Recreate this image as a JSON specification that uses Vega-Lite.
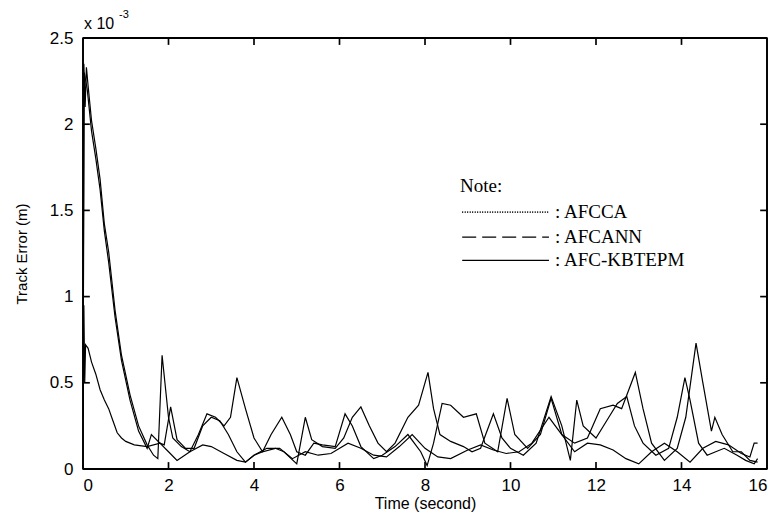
{
  "$schema": "https://vega.github.io/schema/vega-lite/v6.json",
  "width": 684,
  "height": 431,
  "autosize": "none",
  "padding": {"left": 83, "top": 38, "right": 10, "bottom": 49},
  "background": "white",
  "config": {
    "view": {"stroke": "black", "strokeWidth": 1.5},
    "axis": {"grid": false, "domain": false, "ticks": false, "labelColor": "black", "labelFont": "Liberation Sans", "titleFont": "Liberation Sans", "titleColor": "black", "titleFontWeight": "normal"}
  },
  "datasets": {
    "curves": [
      {"s": "L", "t": 0.0, "v": 0.3}, {"s": "L", "t": 0.02, "v": 0.95}, {"s": "L", "t": 0.04, "v": 0.5}, {"s": "L", "t": 0.06, "v": 0.72}, {"s": "L", "t": 0.12, "v": 0.7},
      {"s": "L", "t": 0.2, "v": 0.62}, {"s": "L", "t": 0.3, "v": 0.55}, {"s": "L", "t": 0.4, "v": 0.46}, {"s": "L", "t": 0.5, "v": 0.4}, {"s": "L", "t": 0.6, "v": 0.35},
      {"s": "L", "t": 0.7, "v": 0.28}, {"s": "L", "t": 0.8, "v": 0.21}, {"s": "L", "t": 0.9, "v": 0.18}, {"s": "L", "t": 1.0, "v": 0.16}, {"s": "L", "t": 1.2, "v": 0.14},
      {"s": "L", "t": 1.5, "v": 0.13}, {"s": "L", "t": 1.8, "v": 0.15}, {"s": "L", "t": 2.0, "v": 0.1}, {"s": "L", "t": 2.2, "v": 0.05}, {"s": "L", "t": 2.5, "v": 0.1},
      {"s": "L", "t": 2.8, "v": 0.14}, {"s": "L", "t": 3.0, "v": 0.13}, {"s": "L", "t": 3.3, "v": 0.09}, {"s": "L", "t": 3.6, "v": 0.05}, {"s": "L", "t": 3.8, "v": 0.04},
      {"s": "L", "t": 4.0, "v": 0.08}, {"s": "L", "t": 4.3, "v": 0.12}, {"s": "L", "t": 4.6, "v": 0.12}, {"s": "L", "t": 4.9, "v": 0.06}, {"s": "L", "t": 5.2, "v": 0.1},
      {"s": "L", "t": 5.5, "v": 0.08}, {"s": "L", "t": 5.8, "v": 0.09}, {"s": "L", "t": 6.2, "v": 0.15}, {"s": "L", "t": 6.5, "v": 0.12}, {"s": "L", "t": 6.8, "v": 0.08},
      {"s": "L", "t": 7.1, "v": 0.07}, {"s": "L", "t": 7.4, "v": 0.13}, {"s": "L", "t": 7.7, "v": 0.2}, {"s": "L", "t": 8.0, "v": 0.12}, {"s": "L", "t": 8.3, "v": 0.07},
      {"s": "L", "t": 8.6, "v": 0.06}, {"s": "L", "t": 9.0, "v": 0.11}, {"s": "L", "t": 9.3, "v": 0.14}, {"s": "L", "t": 9.6, "v": 0.11}, {"s": "L", "t": 9.9, "v": 0.09},
      {"s": "L", "t": 10.2, "v": 0.1}, {"s": "L", "t": 10.5, "v": 0.15}, {"s": "L", "t": 10.9, "v": 0.3}, {"s": "L", "t": 11.2, "v": 0.2}, {"s": "L", "t": 11.5, "v": 0.1},
      {"s": "L", "t": 11.8, "v": 0.15}, {"s": "L", "t": 12.1, "v": 0.14}, {"s": "L", "t": 12.4, "v": 0.11}, {"s": "L", "t": 12.7, "v": 0.06}, {"s": "L", "t": 13.0, "v": 0.03},
      {"s": "L", "t": 13.3, "v": 0.1}, {"s": "L", "t": 13.6, "v": 0.15}, {"s": "L", "t": 13.9, "v": 0.1}, {"s": "L", "t": 14.2, "v": 0.04}, {"s": "L", "t": 14.5, "v": 0.12},
      {"s": "L", "t": 14.8, "v": 0.16}, {"s": "L", "t": 15.1, "v": 0.14}, {"s": "L", "t": 15.4, "v": 0.09}, {"s": "L", "t": 15.6, "v": 0.07}, {"s": "L", "t": 15.7, "v": 0.15}, {"s": "L", "t": 15.78, "v": 0.15},

      {"s": "A", "t": 0.0, "v": 0.3}, {"s": "A", "t": 0.02, "v": 2.35}, {"s": "A", "t": 0.05, "v": 2.1}, {"s": "A", "t": 0.08, "v": 2.33}, {"s": "A", "t": 0.12, "v": 2.22},
      {"s": "A", "t": 0.2, "v": 2.02}, {"s": "A", "t": 0.3, "v": 1.86}, {"s": "A", "t": 0.4, "v": 1.68}, {"s": "A", "t": 0.5, "v": 1.42}, {"s": "A", "t": 0.6, "v": 1.26},
      {"s": "A", "t": 0.75, "v": 0.92}, {"s": "A", "t": 0.9, "v": 0.66}, {"s": "A", "t": 1.1, "v": 0.43}, {"s": "A", "t": 1.3, "v": 0.25}, {"s": "A", "t": 1.5, "v": 0.14},
      {"s": "A", "t": 1.65, "v": 0.08}, {"s": "A", "t": 1.75, "v": 0.06}, {"s": "A", "t": 1.85, "v": 0.66}, {"s": "A", "t": 2.0, "v": 0.3}, {"s": "A", "t": 2.1, "v": 0.18},
      {"s": "A", "t": 2.3, "v": 0.13}, {"s": "A", "t": 2.5, "v": 0.1}, {"s": "A", "t": 2.7, "v": 0.2}, {"s": "A", "t": 2.9, "v": 0.32}, {"s": "A", "t": 3.1, "v": 0.3},
      {"s": "A", "t": 3.3, "v": 0.25}, {"s": "A", "t": 3.45, "v": 0.3}, {"s": "A", "t": 3.6, "v": 0.53}, {"s": "A", "t": 3.8, "v": 0.35}, {"s": "A", "t": 4.0, "v": 0.18},
      {"s": "A", "t": 4.2, "v": 0.1}, {"s": "A", "t": 4.5, "v": 0.12}, {"s": "A", "t": 4.7, "v": 0.1}, {"s": "A", "t": 5.0, "v": 0.03}, {"s": "A", "t": 5.2, "v": 0.3},
      {"s": "A", "t": 5.35, "v": 0.17}, {"s": "A", "t": 5.6, "v": 0.13}, {"s": "A", "t": 5.9, "v": 0.12}, {"s": "A", "t": 6.1, "v": 0.18}, {"s": "A", "t": 6.3, "v": 0.3},
      {"s": "A", "t": 6.5, "v": 0.36}, {"s": "A", "t": 6.7, "v": 0.25}, {"s": "A", "t": 6.9, "v": 0.15}, {"s": "A", "t": 7.1, "v": 0.1}, {"s": "A", "t": 7.3, "v": 0.15},
      {"s": "A", "t": 7.6, "v": 0.3}, {"s": "A", "t": 7.85, "v": 0.37}, {"s": "A", "t": 8.07, "v": 0.56}, {"s": "A", "t": 8.2, "v": 0.35}, {"s": "A", "t": 8.35, "v": 0.2},
      {"s": "A", "t": 8.6, "v": 0.16}, {"s": "A", "t": 8.9, "v": 0.13}, {"s": "A", "t": 9.1, "v": 0.1}, {"s": "A", "t": 9.3, "v": 0.12}, {"s": "A", "t": 9.6, "v": 0.32},
      {"s": "A", "t": 9.8, "v": 0.18}, {"s": "A", "t": 10.0, "v": 0.12}, {"s": "A", "t": 10.3, "v": 0.08}, {"s": "A", "t": 10.6, "v": 0.15}, {"s": "A", "t": 10.95, "v": 0.42},
      {"s": "A", "t": 11.2, "v": 0.25}, {"s": "A", "t": 11.4, "v": 0.05}, {"s": "A", "t": 11.55, "v": 0.4}, {"s": "A", "t": 11.7, "v": 0.25}, {"s": "A", "t": 12.0, "v": 0.18},
      {"s": "A", "t": 12.3, "v": 0.3}, {"s": "A", "t": 12.5, "v": 0.38}, {"s": "A", "t": 12.72, "v": 0.42}, {"s": "A", "t": 12.9, "v": 0.25}, {"s": "A", "t": 13.1, "v": 0.15},
      {"s": "A", "t": 13.4, "v": 0.08}, {"s": "A", "t": 13.7, "v": 0.12}, {"s": "A", "t": 13.9, "v": 0.3}, {"s": "A", "t": 14.08, "v": 0.53}, {"s": "A", "t": 14.2, "v": 0.4},
      {"s": "A", "t": 14.4, "v": 0.15}, {"s": "A", "t": 14.6, "v": 0.08}, {"s": "A", "t": 14.8, "v": 0.1}, {"s": "A", "t": 15.0, "v": 0.12}, {"s": "A", "t": 15.3, "v": 0.08},
      {"s": "A", "t": 15.5, "v": 0.05}, {"s": "A", "t": 15.7, "v": 0.03}, {"s": "A", "t": 15.78, "v": 0.06},

      {"s": "B", "t": 0.0, "v": 0.4}, {"s": "B", "t": 0.03, "v": 2.3}, {"s": "B", "t": 0.1, "v": 2.2}, {"s": "B", "t": 0.2, "v": 1.96}, {"s": "B", "t": 0.3, "v": 1.8},
      {"s": "B", "t": 0.4, "v": 1.62}, {"s": "B", "t": 0.5, "v": 1.38}, {"s": "B", "t": 0.6, "v": 1.2}, {"s": "B", "t": 0.75, "v": 0.88}, {"s": "B", "t": 0.9, "v": 0.63},
      {"s": "B", "t": 1.1, "v": 0.4}, {"s": "B", "t": 1.3, "v": 0.22}, {"s": "B", "t": 1.5, "v": 0.12}, {"s": "B", "t": 1.6, "v": 0.2}, {"s": "B", "t": 1.8, "v": 0.15},
      {"s": "B", "t": 1.9, "v": 0.14}, {"s": "B", "t": 2.05, "v": 0.36}, {"s": "B", "t": 2.2, "v": 0.17}, {"s": "B", "t": 2.4, "v": 0.12}, {"s": "B", "t": 2.6, "v": 0.12},
      {"s": "B", "t": 2.8, "v": 0.25}, {"s": "B", "t": 3.0, "v": 0.3}, {"s": "B", "t": 3.2, "v": 0.28}, {"s": "B", "t": 3.4, "v": 0.2}, {"s": "B", "t": 3.6, "v": 0.1},
      {"s": "B", "t": 3.8, "v": 0.04}, {"s": "B", "t": 4.0, "v": 0.08}, {"s": "B", "t": 4.2, "v": 0.1}, {"s": "B", "t": 4.4, "v": 0.2}, {"s": "B", "t": 4.65, "v": 0.3},
      {"s": "B", "t": 4.85, "v": 0.2}, {"s": "B", "t": 5.0, "v": 0.1}, {"s": "B", "t": 5.2, "v": 0.08}, {"s": "B", "t": 5.4, "v": 0.15}, {"s": "B", "t": 5.6, "v": 0.14},
      {"s": "B", "t": 5.9, "v": 0.13}, {"s": "B", "t": 6.13, "v": 0.32}, {"s": "B", "t": 6.3, "v": 0.25}, {"s": "B", "t": 6.5, "v": 0.13}, {"s": "B", "t": 6.8, "v": 0.06},
      {"s": "B", "t": 7.0, "v": 0.08}, {"s": "B", "t": 7.3, "v": 0.13}, {"s": "B", "t": 7.6, "v": 0.2}, {"s": "B", "t": 7.9, "v": 0.1}, {"s": "B", "t": 8.05, "v": 0.02},
      {"s": "B", "t": 8.2, "v": 0.15}, {"s": "B", "t": 8.4, "v": 0.38}, {"s": "B", "t": 8.6, "v": 0.37}, {"s": "B", "t": 8.9, "v": 0.3}, {"s": "B", "t": 9.2, "v": 0.32},
      {"s": "B", "t": 9.4, "v": 0.15}, {"s": "B", "t": 9.7, "v": 0.1}, {"s": "B", "t": 9.92, "v": 0.41}, {"s": "B", "t": 10.1, "v": 0.2}, {"s": "B", "t": 10.4, "v": 0.12},
      {"s": "B", "t": 10.7, "v": 0.2}, {"s": "B", "t": 10.95, "v": 0.41}, {"s": "B", "t": 11.2, "v": 0.2}, {"s": "B", "t": 11.5, "v": 0.15}, {"s": "B", "t": 11.8, "v": 0.18},
      {"s": "B", "t": 12.1, "v": 0.35}, {"s": "B", "t": 12.4, "v": 0.37}, {"s": "B", "t": 12.6, "v": 0.35}, {"s": "B", "t": 12.92, "v": 0.56}, {"s": "B", "t": 13.1, "v": 0.35},
      {"s": "B", "t": 13.3, "v": 0.15}, {"s": "B", "t": 13.6, "v": 0.05}, {"s": "B", "t": 13.9, "v": 0.12}, {"s": "B", "t": 14.1, "v": 0.3}, {"s": "B", "t": 14.34, "v": 0.73},
      {"s": "B", "t": 14.5, "v": 0.5}, {"s": "B", "t": 14.7, "v": 0.22}, {"s": "B", "t": 14.78, "v": 0.3}, {"s": "B", "t": 14.95, "v": 0.2}, {"s": "B", "t": 15.2, "v": 0.1},
      {"s": "B", "t": 15.4, "v": 0.1}, {"s": "B", "t": 15.6, "v": 0.05}, {"s": "B", "t": 15.78, "v": 0.04}
    ],
    "legend": [
      {"series": "AFCCA", "x0": 8.87, "x1": 10.9, "y": 1.49, "label": ": AFCCA"},
      {"series": "AFCANN", "x0": 8.87, "x1": 10.9, "y": 1.345, "label": ": AFCANN"},
      {"series": "AFC-KBTEPM", "x0": 8.87, "x1": 10.9, "y": 1.21, "label": ": AFC-KBTEPM"}
    ],
    "notes": [
      {"x": 8.82, "y": 1.64, "txt": "Note:"}
    ],
    "expo": [
      {"x": 0, "y": 2.5, "base": "x 10", "pow": "-3"}
    ],
    "hlines": [
      {"kind": "frame", "xa": 0, "xb": 16, "ya": 0},
      {"kind": "frame", "xa": 0, "xb": 16, "ya": 2.5},
      {"kind": "tick", "xa": 0, "xb": 0.16, "ya": 0.5}, {"kind": "tick", "xa": 0, "xb": 0.16, "ya": 1}, {"kind": "tick", "xa": 0, "xb": 0.16, "ya": 1.5}, {"kind": "tick", "xa": 0, "xb": 0.16, "ya": 2},
      {"kind": "tick", "xa": 15.84, "xb": 16, "ya": 0.5}, {"kind": "tick", "xa": 15.84, "xb": 16, "ya": 1}, {"kind": "tick", "xa": 15.84, "xb": 16, "ya": 1.5}, {"kind": "tick", "xa": 15.84, "xb": 16, "ya": 2}
    ],
    "vlines": [
      {"kind": "frame", "xa": 0, "ya": 0, "yb": 2.5},
      {"kind": "frame", "xa": 16, "ya": 0, "yb": 2.5},
      {"kind": "tick", "xa": 2, "ya": 0, "yb": 0.04}, {"kind": "tick", "xa": 4, "ya": 0, "yb": 0.04}, {"kind": "tick", "xa": 6, "ya": 0, "yb": 0.04}, {"kind": "tick", "xa": 8, "ya": 0, "yb": 0.04},
      {"kind": "tick", "xa": 10, "ya": 0, "yb": 0.04}, {"kind": "tick", "xa": 12, "ya": 0, "yb": 0.04}, {"kind": "tick", "xa": 14, "ya": 0, "yb": 0.04},
      {"kind": "tick", "xa": 2, "ya": 2.46, "yb": 2.5}, {"kind": "tick", "xa": 4, "ya": 2.46, "yb": 2.5}, {"kind": "tick", "xa": 6, "ya": 2.46, "yb": 2.5}, {"kind": "tick", "xa": 8, "ya": 2.46, "yb": 2.5},
      {"kind": "tick", "xa": 10, "ya": 2.46, "yb": 2.5}, {"kind": "tick", "xa": 12, "ya": 2.46, "yb": 2.5}, {"kind": "tick", "xa": 14, "ya": 2.46, "yb": 2.5}
    ]
  },
  "layer": [
    {
      "data": {"name": "curves"},
      "mark": {"type": "line", "color": "black", "strokeWidth": 1.2, "clip": true},
      "encoding": {
        "x": {"field": "t", "type": "quantitative", "scale": {"domain": [0, 16], "nice": false},
              "axis": {"orient": "bottom", "values": [0, 2, 4, 6, 8, 10, 12, 14, 16], "labelPadding": 8, "labelFontSize": 17, "title": "Time (second)", "titleFontSize": 16, "titlePadding": 2}},
        "y": {"field": "v", "type": "quantitative", "scale": {"domain": [0, 2.5], "nice": false},
              "axis": {"orient": "left", "values": [0, 0.5, 1, 1.5, 2, 2.5], "format": "~g", "labelPadding": 10, "labelFontSize": 17, "title": "Track Error (m)", "titleFontSize": 15, "titlePadding": 20}},
        "detail": {"field": "s", "type": "nominal"},
        "order": {"field": "t", "type": "quantitative"}
      }
    },
    {
      "data": {"name": "hlines"},
      "mark": {"type": "rule", "color": "black"},
      "encoding": {
        "x": {"field": "xa", "type": "quantitative"},
        "x2": {"field": "xb"},
        "y": {"field": "ya", "type": "quantitative"},
        "strokeWidth": {"field": "kind", "type": "nominal", "scale": {"domain": ["frame", "tick"], "range": [1.8, 1.3]}, "legend": null}
      }
    },
    {
      "data": {"name": "vlines"},
      "mark": {"type": "rule", "color": "black"},
      "encoding": {
        "x": {"field": "xa", "type": "quantitative"},
        "y": {"field": "ya", "type": "quantitative"},
        "y2": {"field": "yb"},
        "strokeWidth": {"field": "kind", "type": "nominal", "scale": {"domain": ["frame", "tick"], "range": [1.8, 1.3]}, "legend": null}
      }
    },
    {
      "data": {"name": "legend"},
      "mark": {"type": "rule", "color": "black"},
      "encoding": {
        "x": {"field": "x0", "type": "quantitative"},
        "x2": {"field": "x1"},
        "y": {"field": "y", "type": "quantitative"},
        "strokeDash": {"field": "series", "type": "nominal", "scale": {"domain": ["AFCCA", "AFCANN", "AFC-KBTEPM"], "range": [[1, 1.5], [14, 6], [1, 0]]}, "legend": null},
        "strokeWidth": {"field": "series", "type": "nominal", "scale": {"domain": ["AFCCA", "AFCANN", "AFC-KBTEPM"], "range": [0.8, 1.4, 1.4]}, "legend": null}
      }
    },
    {
      "data": {"name": "legend"},
      "mark": {"type": "text", "font": "Liberation Serif", "fontSize": 19, "align": "left", "baseline": "middle", "dx": 6, "color": "black"},
      "encoding": {
        "x": {"field": "x1", "type": "quantitative"},
        "y": {"field": "y", "type": "quantitative"},
        "text": {"field": "label"}
      }
    },
    {
      "data": {"name": "notes"},
      "mark": {"type": "text", "font": "Liberation Serif", "fontSize": 19, "align": "left", "baseline": "middle", "color": "black"},
      "encoding": {
        "x": {"field": "x", "type": "quantitative"},
        "y": {"field": "y", "type": "quantitative"},
        "text": {"field": "txt"}
      }
    },
    {
      "data": {"name": "expo"},
      "mark": {"type": "text", "font": "Liberation Sans", "fontSize": 16, "align": "left", "baseline": "middle", "dx": 1, "dy": -14, "color": "black", "clip": false},
      "encoding": {
        "x": {"field": "x", "type": "quantitative"},
        "y": {"field": "y", "type": "quantitative"},
        "text": {"field": "base"}
      }
    },
    {
      "data": {"name": "expo"},
      "mark": {"type": "text", "font": "Liberation Sans", "fontSize": 11, "align": "left", "baseline": "middle", "dx": 36, "dy": -23, "color": "black", "clip": false},
      "encoding": {
        "x": {"field": "x", "type": "quantitative"},
        "y": {"field": "y", "type": "quantitative"},
        "text": {"field": "pow"}
      }
    }
  ]
}
